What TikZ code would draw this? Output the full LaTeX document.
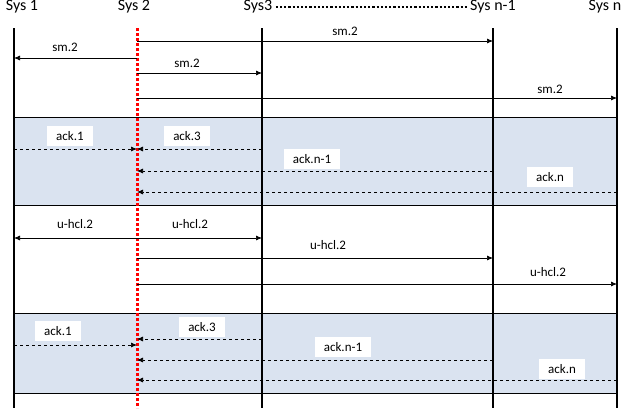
\documentclass[tikz,border=0pt]{standalone}
\usepackage{fontspec}
\setmainfont{Carlito}
\usetikzlibrary{arrows.meta}
\definecolor{band}{HTML}{DAE3F0}
\begin{document}
\begin{tikzpicture}[x=1pt,y=-1pt,
  msg/.style={draw,-{Latex[length=6pt,width=5pt]},line width=0.7pt},
  ack/.style={msg,dashed},
  lbl/.style={fill=white,font=\fontsize{13}{15}\selectfont,inner xsep=9pt,inner ysep=5pt},
  hdr/.style={font=\fontsize{16}{18}\selectfont},
  life/.style={line width=2pt}]
\useasboundingbox (0,0) rectangle (629,410);
\fill[band] (14,117) rectangle (617,205);
\fill[band] (14,313) rectangle (617,393);
\foreach \y in {117,205,313,393} \draw[line width=0.7pt] (14,\y) -- (617,\y);
\node[hdr] (h1) at (22,7) {Sys 1};
\node[hdr] (h2) at (134,7) {Sys 2};
\node[hdr] (h3) at (258,7) {Sys3};
\node[hdr] (h4) at (493,7) {Sys n-1};
\node[hdr] (h5) at (605,7) {Sys n};
\draw[line width=2.2pt,dotted] (h3.east) -- (h4.west);
\foreach \n/\x in {a/14,c/262,d/493,e/617}{
  \coordinate (\n t) at (\x,28); \coordinate (\n b) at (\x,408);
  \draw[life] (\n t) -- (\n b);}
\coordinate (bt) at (137,28); \coordinate (bb) at (137,408);
\draw[red,line width=3pt,dotted] (bt) -- (bb);
\foreach \n/\x in {a/14,b/137,c/262,d/493,e/617}
  \foreach \y in {41,58,73,98,149,171,192,238,258,284,339,345,360,380}
    \coordinate (\n\y) at (\x,\y);
\draw[msg] (b41) -- (d41); \node[lbl] (l1) at (345,31) {sm.2};
\draw[msg] (b58) -- (a58); \node[lbl] (l2) at (65,47) {sm.2};
\draw[msg] (b73) -- (c73); \node[lbl] (l3) at (187,63) {sm.2};
\draw[msg] (b98) -- (e98); \node[lbl] (l4) at (550,89) {sm.2};
\node[lbl] (l5) at (70,136) {ack.1};
\node[lbl] (l6) at (187,136) {ack.3};
\node[lbl] (l7) at (312,159) {ack.n-1};
\node[lbl] (l8) at (550,177) {ack.n};
\draw[ack] (a149) -- (b149);
\draw[ack] (c149) -- (b149);
\draw[ack] (d171) -- (b171);
\draw[ack] (e192) -- (b192);
\draw[msg] (b238) -- (a238); \node[lbl] (l9) at (75,224) {u-hcl.2};
\draw[msg] (b238) -- (c238); \node[lbl] (l10) at (190,224) {u-hcl.2};
\draw[msg] (b258) -- (d258); \node[lbl] (l11) at (328,245) {u-hcl.2};
\draw[msg] (b284) -- (e284); \node[lbl] (l12) at (548,272) {u-hcl.2};
\node[lbl] (l13) at (58,331) {ack.1};
\node[lbl] (l14) at (202,327) {ack.3};
\node[lbl] (l15) at (343,347) {ack.n-1};
\node[lbl] (l16) at (562,369) {ack.n};
\draw[ack] (a345) -- (b345);
\draw[ack] (c339) -- (b339);
\draw[ack] (d360) -- (b360);
\draw[ack] (e380) -- (b380);
\end{tikzpicture}
\end{document}
